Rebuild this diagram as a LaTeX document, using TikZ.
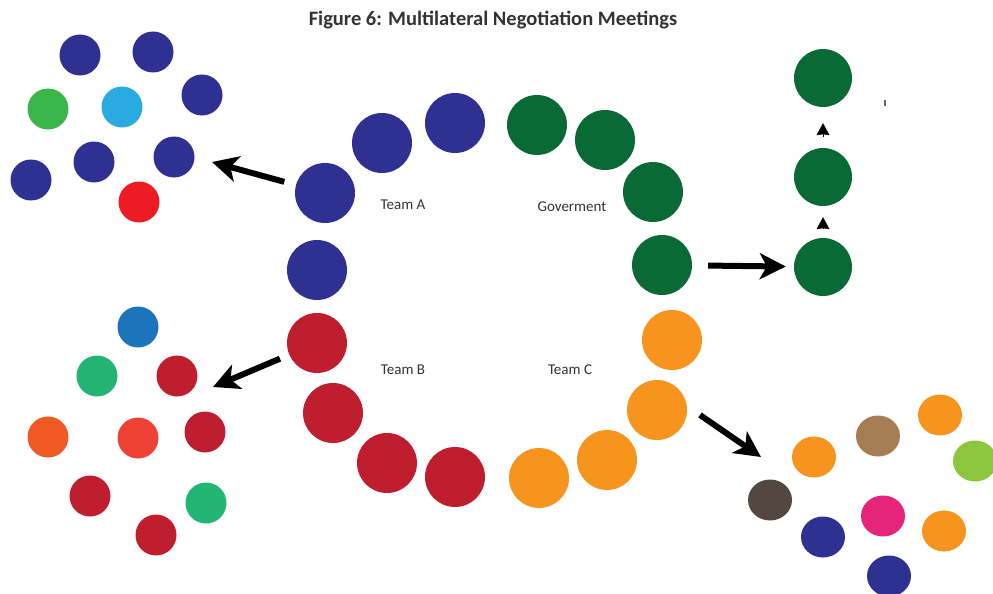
\documentclass[tikz,border=0pt]{standalone}
\usepackage{fontspec}
\setmainfont{Carlito}
\usetikzlibrary{arrows.meta,shapes.geometric}
\definecolor{navy}{HTML}{2E3192}
\definecolor{dgreen}{HTML}{0A6A36}
\definecolor{orng}{HTML}{F7941D}
\definecolor{dred}{HTML}{BE1E2D}
\definecolor{lgreen}{HTML}{39B54A}
\definecolor{cyanb}{HTML}{29ABE2}
\definecolor{bred}{HTML}{ED1C24}
\definecolor{mblue}{HTML}{1C75BC}
\definecolor{tgreen}{HTML}{22B573}
\definecolor{rorange}{HTML}{F15A24}
\definecolor{ored}{HTML}{EF4136}
\definecolor{brwn}{HTML}{A67C52}
\definecolor{lime}{HTML}{8CC63F}
\definecolor{dbrown}{HTML}{534741}
\definecolor{pinkm}{HTML}{E6247A}
\tikzset{
  big/.style={circle, draw=none, inner sep=0pt, minimum size=60pt},
  small/.style={circle, draw=none, inner sep=0pt, minimum size=41pt},
  oval/.style={ellipse, draw=none, inner sep=0pt, minimum width=44pt, minimum height=41pt},
  bigarrow/.style={draw=black, line width=6pt, -{Stealth[length=26pt,width=26pt,inset=7pt]}},
  tinyarrow/.style={draw=black, line width=0.4pt, -{Stealth[length=12pt,width=13pt,inset=1pt]}},
  lbl/.style={font=\fontsize{15}{15}\selectfont, text=black!80},
  ttl/.style={font=\bfseries\fontsize{20.5}{20.5}\selectfont, text=black!80}
}
\begin{document}
\begin{tikzpicture}[x=1pt,y=-1pt]
\useasboundingbox (0,0) rectangle (993,594);
\node[ttl] (title) at (493,20) {Figure 6: Multilateral Negotiation Meetings};
% ring: Team A
\node[big, fill=navy] (a1) at (455,123) {};
\node[big, fill=navy] (a2) at (382,143) {};
\node[big, fill=navy] (a3) at (325,193) {};
\node[big, fill=navy] (a4) at (317,270) {};
% Government
\node[big, fill=dgreen] (g1) at (537,125) {};
\node[big, fill=dgreen] (g2) at (605,140) {};
\node[big, fill=dgreen] (g3) at (653,192) {};
\node[big, fill=dgreen] (g4) at (662,265) {};
% Team C
\node[big, fill=orng] (c1) at (672,340) {};
\node[big, fill=orng] (c2) at (657,410) {};
\node[big, fill=orng] (c3) at (607,460) {};
\node[big, fill=orng] (c4) at (539,478) {};
% Team B
\node[big, fill=dred] (b1) at (317,343) {};
\node[big, fill=dred] (b2) at (333,413) {};
\node[big, fill=dred] (b3) at (387,463) {};
\node[big, fill=dred] (b4) at (455,477) {};
% labels
\node[lbl] (la) at (403,205) {Team A};
\node[lbl] (lg) at (572,207) {Goverment};
\node[lbl] (lb) at (403,370) {Team B};
\node[lbl] (lc) at (570,370) {Team C};
% right column
\node[big, minimum size=58pt, fill=dgreen] (r1) at (823,78) {};
\node[big, minimum size=58pt, fill=dgreen] (r2) at (823,177) {};
\node[big, minimum size=58pt, fill=dgreen] (r3) at (823,267) {};
\draw[tinyarrow, shorten >=16pt, shorten <=11pt] (r2) -- (r1);
\draw[tinyarrow, shorten >=11pt, shorten <=9pt] (r3) -- (r2);
\draw[line width=1.5pt, black!60] (885,100) -- (885,106);
% top-left cluster
\node[small, fill=navy] (t1) at (80,55) {};
\node[small, fill=navy] (t2) at (153,52) {};
\node[small, fill=navy] (t3) at (202,95) {};
\node[small, fill=lgreen] (t4) at (48,109) {};
\node[small, fill=cyanb] (t5) at (122,107) {};
\node[small, fill=navy] (t6) at (31,180) {};
\node[small, fill=navy] (t7) at (94,162) {};
\node[small, fill=navy] (t8) at (174,157) {};
\node[small, fill=bred] (t9) at (139,202) {};
% bottom-left cluster
\node[small, fill=mblue] (s1) at (138,327) {};
\node[small, fill=tgreen] (s2) at (97,376) {};
\node[small, fill=dred] (s3) at (177,376) {};
\node[small, fill=rorange] (s4) at (48,437) {};
\node[small, fill=ored] (s5) at (138,438) {};
\node[small, fill=dred] (s6) at (205,432) {};
\node[small, fill=dred] (s7) at (90,496) {};
\node[small, fill=tgreen] (s8) at (206,503) {};
\node[small, fill=dred] (s9) at (156,535) {};
% bottom-right cluster
\node[oval, fill=orng] (e1) at (814,457) {};
\node[oval, fill=brwn] (e2) at (878,436) {};
\node[oval, fill=orng] (e3) at (940,415) {};
\node[oval, fill=lime] (e4) at (975,461) {};
\node[oval, fill=dbrown] (e5) at (770,500) {};
\node[oval, fill=pinkm] (e6) at (883,516) {};
\node[oval, fill=orng] (e7) at (944,531) {};
\node[oval, fill=navy] (e8) at (823,537) {};
\node[oval, fill=navy] (e9) at (889,576) {};
% big arrows
\coordinate (tipA) at (212,162);
\coordinate (tipB) at (213,387);
\coordinate (tailC) at ([shift={(43,5)}]c2.center);
\coordinate (tipC) at (761,457);
\draw[bigarrow, shorten <=12pt] (a3) -- (tipA);
\draw[bigarrow, shorten <=10pt] (b1) -- (tipB);
\draw[bigarrow] (tailC) -- (tipC);
\draw[bigarrow, shorten <=16pt, shorten >=8pt] (g4) -- (r3);
\end{tikzpicture}
\end{document}
